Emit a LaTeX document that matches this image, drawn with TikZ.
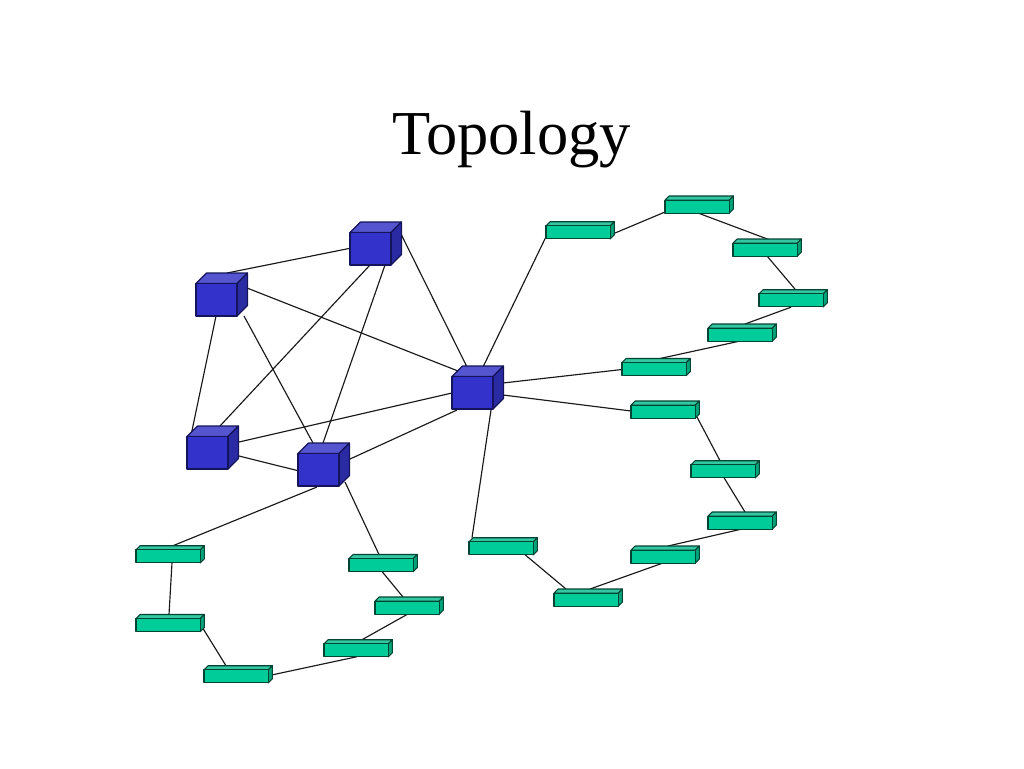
\documentclass[tikz,border=0pt]{standalone}
\usepackage{fontspec}
\setmainfont{Liberation Serif}
\pgfdeclarelayer{back}
\pgfsetlayers{back,main}
\definecolor{cubeF}{HTML}{3333CC}
\definecolor{cubeT}{HTML}{5555D0}
\definecolor{cubeS}{HTML}{2A2AA3}
\definecolor{cubeE}{HTML}{14145A}
\definecolor{boxF}{HTML}{00CC99}
\definecolor{boxT}{HTML}{33C7A2}
\definecolor{boxS}{HTML}{00A37A}
\definecolor{boxE}{HTML}{004433}
\tikzset{
  link/.style={draw=black!90,line width=1.15pt},
  hub/.style={inner sep=0pt,outer sep=0pt,anchor=north west},
  edgeline/.style={line width=1.1pt,line join=round},
  bluefront/.style={edgeline,draw=cubeE,fill=cubeF},
  bluetop/.style={edgeline,draw=cubeE,fill=cubeT},
  blueside/.style={edgeline,draw=cubeE,fill=cubeS},
  greenfront/.style={edgeline,draw=boxE,fill=boxF},
  greentop/.style={edgeline,draw=boxE,fill=boxT},
  greenside/.style={edgeline,draw=boxE,fill=boxS}
}
% #1 name, #2 left, #3 top of the whole solid, #4 front w, #5 front h, #6 depth, #7 colour prefix
\newcommand{\solid}[7]{
  \node[hub,minimum width=#4pt+#6pt,minimum height=#5pt+#6pt] (#1) at (#2,#3) {};
  \draw[#7top] (#2,#3+#6) -- ++(#6,-#6) -- ++(#4,0) -- ++(-#6,#6) -- cycle;
  \draw[#7side] (#2+#4,#3+#6) -- ++(#6,-#6) -- ++(0,#5) -- ++(-#6,#6) -- cycle;
  \draw[#7front] (#2,#3+#6) rectangle ++(#4,#5);
}
\newcommand{\cubeat}[3]{\solid{#1}{#2}{#3}{41}{32.5}{10.5}{blue}}
\newcommand{\boxat}[3]{\solid{#1}{#2}{#3}{64.2}{13}{4.2}{green}}
\newcommand{\conn}[6]{\draw[link] ([shift={(#2,#3)}]#1.north west) -- ([shift={(#5,#6)}]#4.north west);}
\begin{document}
\begin{tikzpicture}[x=1pt,y=-1pt]
\useasboundingbox (0,0) rectangle (1024,768);
\begin{pgfonlayer}{back}
\fill[white] (0,0) rectangle (1024,768);
\end{pgfonlayer}
\node[inner sep=0pt,font=\fontsize{62.5}{62.5}\selectfont] (title) at (511.7,140) {Topology};
\cubeat{T}{350}{222}
\cubeat{A}{196}{273}
\cubeat{C}{452}{366}
\cubeat{L}{187}{426}
\cubeat{M}{298}{443}
\boxat{g1}{546}{221.7}
\boxat{g2}{665}{196}
\boxat{g3}{733}{239}
\boxat{g4}{759}{289.7}
\boxat{g5}{708}{324}
\boxat{g6}{622}{358.5}
\boxat{g7}{631}{401}
\boxat{g8}{691}{460.7}
\boxat{g9}{708}{512}
\boxat{g10}{631}{546}
\boxat{g11}{554}{589}
\boxat{g12}{469}{537.7}
\boxat{g13}{136}{545.7}
\boxat{g14}{136}{614.5}
\boxat{g15}{204}{665.7}
\boxat{g16}{324}{639.7}
\boxat{g17}{375}{597}
\boxat{g18}{349}{554.5}
\begin{pgfonlayer}{back}
\conn{T}{0}{26.3}{A}{31}{0}
\conn{A}{51}{15}{C}{6}{5}
\conn{T}{51}{12}{C}{15}{1}
\conn{T}{20}{43}{L}{33}{0}
\conn{T}{35}{43}{M}{25}{0}
\conn{A}{20}{43}{L}{4.5}{7}
\conn{A}{48}{43}{M}{15}{0}
\conn{L}{52}{16}{C}{0}{27}
\conn{L}{52}{30}{M}{0}{27.7}
\conn{M}{52}{16}{C}{5}{44}
\conn{M}{47}{39}{g18}{30}{0}
\conn{M}{19}{44}{g13}{37}{0}
\conn{C}{31}{1}{g1}{1}{13}
\conn{C}{51}{17}{g6}{0}{11}
\conn{C}{51}{29}{g7}{0}{10}
\conn{C}{39}{44}{g12}{3}{0}
\conn{g1}{65}{13}{g2}{0}{16}
\conn{g2}{33}{17}{g3}{37}{1}
\conn{g3}{34}{17}{g4}{36.5}{0}
\conn{g4}{32}{17.5}{g5}{37}{0}
\conn{g5}{30}{17.5}{g6}{38}{0}
\conn{g7}{66}{16}{g8}{29}{0}
\conn{g8}{33}{17}{g9}{37}{0}
\conn{g9}{34}{17}{g10}{37}{0}
\conn{g10}{32}{17}{g11}{36}{0}
\conn{g11}{12}{0}{g12}{56}{17}
\conn{g13}{36}{17}{g14}{33}{0}
\conn{g14}{67}{14}{g15}{22}{0}
\conn{g15}{69}{9}{g16}{33}{17}
\conn{g16}{38}{0}{g17}{32}{17.5}
\conn{g17}{28}{0}{g18}{33}{17}
\end{pgfonlayer}
\end{tikzpicture}
\end{document}
